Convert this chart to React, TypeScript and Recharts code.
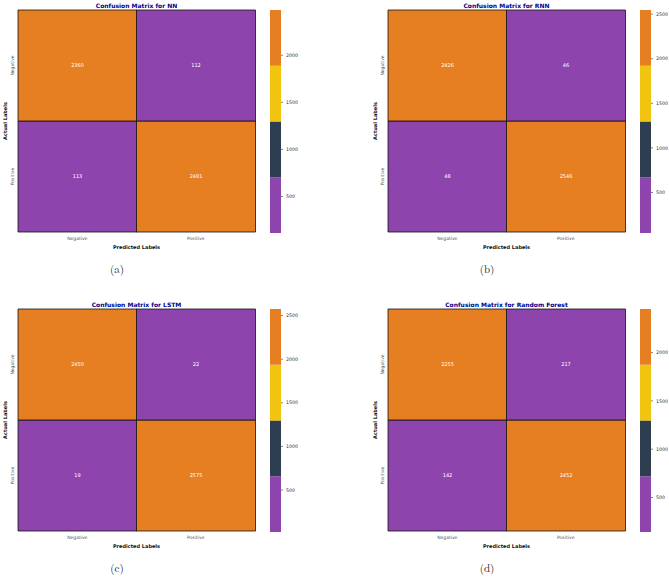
import React from 'react';
import { BarChart, Bar, XAxis, YAxis, Cell, LabelList } from 'recharts';

// Class labels
const predictedLabels = ['Negative', 'Positive'];
const actualLabels = ['Negative', 'Positive'];

// Confusion matrices: rows = actual (Negative, Positive), columns = predicted (Negative, Positive)
const nnMatrix = [
  [2360, 112],
  [113, 2481],
];
const rnnMatrix = [
  [2426, 46],
  [48, 2546],
];
const lstmMatrix = [
  [2450, 22],
  [19, 2575],
];
const rfMatrix = [
  [2255, 217],
  [142, 2452],
];

// Discrete colour map (low -> high) and colour-bar ticks
const colorSteps = ['#8e44ad', '#2c3e50', '#f1c40f', '#e67e22'];
const colorbarTicks = [500, 1000, 1500, 2000, 2500];

const modelNames = ['NN', 'RNN', 'LSTM', 'Random Forest'];
const matrices = [nnMatrix, rnnMatrix, lstmMatrix, rfMatrix];
const captions = ['(a)', '(b)', '(c)', '(d)'];

const FONT = 'DejaVu Sans, Verdana, sans-serif';
const SERIF = 'Latin Modern Roman, CMU Serif, DejaVu Serif, Liberation Serif, serif';

// Panel placement on the page (left, top)
const origins = [
  { left: 0, top: 0 },
  { left: 370, top: 0 },
  { left: 0, top: 299 },
  { left: 370, top: 299 },
];

const HM_W = 300;
const HM_H = 260;
const HM_MARGIN = { top: 10, right: 45, bottom: 0, left: 0 };
const Y_AXIS_W = 18;
const X_AXIS_H = 28;

const RowTick = (props: any) => {
  const { x, y, payload } = props;
  const idx = actualLabels.length - 1 - Math.floor(payload.value);
  return (
    <text
      x={x}
      y={y}
      transform={`rotate(-90 ${x} ${y})`}
      textAnchor="middle"
      dominantBaseline="central"
      fontSize={4.5}
      fontFamily={FONT}
      fill="#555"
    >
      {actualLabels[idx]}
    </text>
  );
};

function Panel({ matrix, left, top }: { matrix: number[][]; left: number; top: number }) {
  const flat = matrix.flat();
  const vmin = Math.min(...flat);
  const vmax = Math.max(...flat);
  const colorOf = (v: number) => {
    const i = Math.min(
      colorSteps.length - 1,
      Math.floor(((v - vmin) / (vmax - vmin)) * colorSteps.length)
    );
    return colorSteps[i];
  };

  // One column per predicted label; the actual "Positive" row sits at the bottom of each stack
  const rows = predictedLabels.map((p, j) => ({
    pred: p,
    topCount: matrix[0][j],
    bottomCount: matrix[1][j],
    topSpan: 1,
    bottomSpan: 1,
  }));

  const step = (vmax - vmin) / colorSteps.length;
  const bandRow: any = { key: 'cb', base: vmin };
  colorSteps.forEach((_, i) => {
    bandRow['s' + i] = step;
  });
  const cbTicks = colorbarTicks.filter((t) => t >= vmin && t <= vmax);

  return (
    <>
      <div style={{ position: 'absolute', left, top }}>
        <BarChart
          width={HM_W}
          height={HM_H}
          data={rows}
          margin={HM_MARGIN}
          barCategoryGap={0}
          barGap={0}
        >
          <XAxis
            dataKey="pred"
            interval={0}
            tickLine={false}
            axisLine={false}
            tickSize={0}
            tickMargin={5}
            height={X_AXIS_H}
            tick={{ fontSize: 4.5, fill: '#555', fontFamily: FONT }}
          />
          <YAxis
            type="number"
            domain={[0, 2]}
            ticks={[0.5, 1.5]}
            width={Y_AXIS_W}
            tickLine={false}
            axisLine={false}
            tickSize={0}
            tickMargin={6}
            tick={<RowTick />}
          />
          <Bar dataKey="bottomSpan" stackId="m" isAnimationActive={false} stroke="#111" strokeWidth={0.8}>
            {rows.map((r, i) => (
              <Cell key={i} fill={colorOf(r.bottomCount)} />
            ))}
            <LabelList dataKey="bottomCount" position="center" fill="#fff" fontSize={5} fontFamily={FONT} />
          </Bar>
          <Bar dataKey="topSpan" stackId="m" isAnimationActive={false} stroke="#111" strokeWidth={0.8}>
            {rows.map((r, i) => (
              <Cell key={i} fill={colorOf(r.topCount)} />
            ))}
            <LabelList dataKey="topCount" position="center" fill="#fff" fontSize={5} fontFamily={FONT} />
          </Bar>
        </BarChart>
      </div>
      <div style={{ position: 'absolute', left: left + 270, top }}>
        <BarChart
          width={45}
          height={260}
          data={[bandRow]}
          margin={{ top: 10, right: 0, bottom: 27, left: 0 }}
          barCategoryGap={0}
          barGap={0}
        >
          <XAxis dataKey="key" hide />
          <YAxis
            orientation="right"
            type="number"
            domain={[vmin, vmax]}
            allowDataOverflow
            ticks={cbTicks}
            width={34}
            axisLine={false}
            tickSize={2}
            tickMargin={3}
            tickLine={{ stroke: '#333', strokeWidth: 0.6 }}
            tick={{ fontSize: 4.7, fill: '#333', fontFamily: FONT }}
          />
          <Bar dataKey="base" stackId="c" fill="none" isAnimationActive={false} />
          {colorSteps.map((c, i) => (
            <Bar key={c} dataKey={'s' + i} stackId="c" fill={c} isAnimationActive={false} />
          ))}
        </BarChart>
      </div>
    </>
  );
}

export default function App() {
  return (
    <div
      style={{
        position: 'absolute',
        left: 0,
        top: 0,
        width: 669,
        height: 577,
        background: '#fff',
        overflow: 'hidden',
      }}
    >
      {matrices.map((m, i) => (
        <Panel key={i} matrix={m} left={origins[i].left} top={origins[i].top} />
      ))}
      <svg
        width={669}
        height={577}
        style={{ position: 'absolute', left: 0, top: 0, pointerEvents: 'none' }}
      >
        {modelNames.map((name, i) => {
          const { left, top } = origins[i];
          const cx = left + Y_AXIS_W + (HM_W - Y_AXIS_W - HM_MARGIN.right) / 2;
          const plotMid = top + HM_MARGIN.top + (HM_H - HM_MARGIN.top - X_AXIS_H) / 2;
          return (
            <g key={name}>
              <text
                x={cx}
                y={top + 5}
                textAnchor="middle"
                dominantBaseline="central"
                fontSize={6}
                fontWeight="bold"
                fontFamily={FONT}
                fill="#00008b"
              >
                {'Confusion Matrix for ' + name}
              </text>
              <text
                x={cx}
                y={top + 247}
                textAnchor="middle"
                dominantBaseline="central"
                fontSize={5}
                fontWeight="bold"
                fontFamily={FONT}
                fill="#111"
              >
                Predicted Labels
              </text>
              <text
                x={left + 5}
                y={plotMid}
                transform={`rotate(-90 ${left + 5} ${plotMid})`}
                textAnchor="middle"
                dominantBaseline="central"
                fontSize={5}
                fontWeight="bold"
                fontFamily={FONT}
                fill="#111"
              >
                Actual Labels
              </text>
              <text
                x={left + 117}
                y={top + 268}
                textAnchor="middle"
                dominantBaseline="central"
                fontSize={11}
                fontFamily={SERIF}
                fill="#222"
              >
                {captions[i]}
              </text>
            </g>
          );
        })}
      </svg>
    </div>
  );
}
